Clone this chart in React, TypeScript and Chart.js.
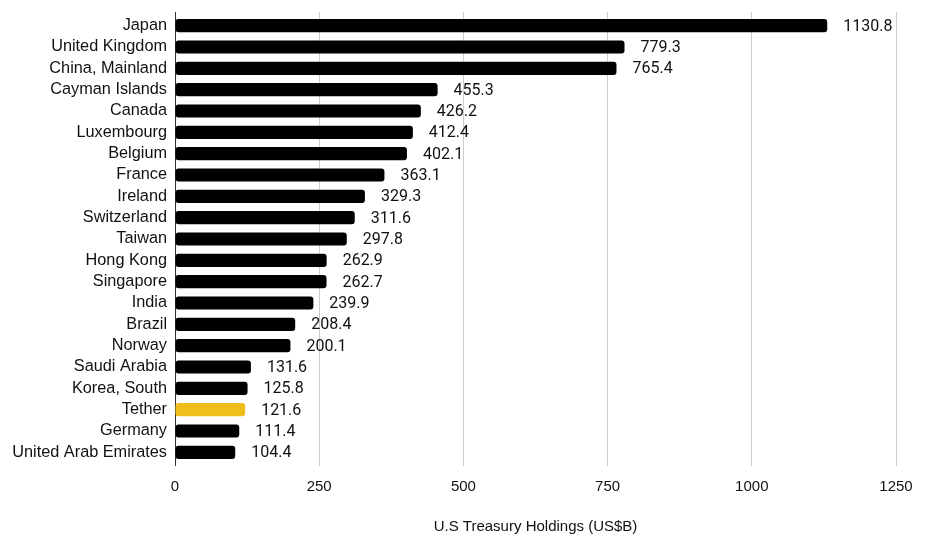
import React, { useEffect, useRef } from "react";
import { Chart, registerables } from "chart.js";

Chart.register(...registerables);

const categories = [
  "Japan",
  "United Kingdom",
  "China, Mainland",
  "Cayman Islands",
  "Canada",
  "Luxembourg",
  "Belgium",
  "France",
  "Ireland",
  "Switzerland",
  "Taiwan",
  "Hong Kong",
  "Singapore",
  "India",
  "Brazil",
  "Norway",
  "Saudi Arabia",
  "Korea, South",
  "Tether",
  "Germany",
  "United Arab Emirates",
];

const holdings = [
  1130.8, 779.3, 765.4, 455.3, 426.2, 412.4, 402.1, 363.1, 329.3, 311.6, 297.8,
  262.9, 262.7, 239.9, 208.4, 200.1, 131.6, 125.8, 121.6, 111.4, 104.4,
];

const highlight = "Tether";
const xTicks = [0, 250, 500, 750, 1000, 1250];
const axisTitle = "U.S Treasury Holdings (US$B)";

const valueLabels = {
  id: "valueLabels",
  afterDatasetsDraw(chart: any) {
    const ctx = chart.ctx;
    const meta = chart.getDatasetMeta(0);
    ctx.save();
    ctx.font = "16px Roboto";
    ctx.fillStyle = "#111";
    ctx.textAlign = "left";
    ctx.textBaseline = "middle";
    meta.data.forEach((bar: any, i: number) => {
      const v = chart.data.datasets[0].data[i];
      ctx.fillText(v.toFixed(1), bar.x + 16, bar.y + 1);
    });
    ctx.restore();
  },
};

// extends the vertical grid lines a few pixels past the plot area, as in the source
const gridExtend = {
  id: "gridExtend",
  afterDraw(chart: any) {
    const ctx = chart.ctx;
    const area = chart.chartArea;
    const xs = chart.scales.x;
    ctx.save();
    ctx.lineWidth = 1;
    xTicks.forEach((v) => {
      const x = Math.round(xs.getPixelForValue(v) - 0.5) + 0.5;
      ctx.strokeStyle = v === 0 ? "#333333" : "#cccccc";
      ctx.beginPath();
      ctx.moveTo(x, area.top - 3);
      ctx.lineTo(x, area.top);
      ctx.moveTo(x, area.bottom);
      ctx.lineTo(x, area.bottom + 3);
      ctx.stroke();
    });
    ctx.restore();
  },
};

export default function App() {
  const ref = useRef<HTMLCanvasElement>(null);
  useEffect(() => {
    if (!ref.current) return;
    const chart = new Chart(ref.current, {
      type: "bar",
      data: {
        labels: categories,
        datasets: [
          {
            data: holdings,
            backgroundColor: categories.map((c) => (c === highlight ? "#F0BD1B" : "#000000")),
            borderRadius: 3,
            borderSkipped: false,
            barPercentage: 0.62,
            categoryPercentage: 1,
          },
        ],
      },
      options: {
        indexAxis: "y",
        responsive: false,
        animation: false,
        layout: { padding: { top: 15, right: 29, left: 0, bottom: 0 } },
        plugins: {
          legend: { display: false },
          tooltip: { enabled: false },
        },
        scales: {
          x: {
            type: "linear",
            min: 0,
            max: 1250,
            afterBuildTicks: (scale: any) => {
              scale.ticks = xTicks.map((v) => ({ value: v }));
            },
            afterFit: (scale: any) => {
              scale.height = 75;
              scale.paddingLeft = 0;
              scale.paddingRight = 0;
            },
            grid: { color: "#cccccc", drawTicks: false, lineWidth: 1 },
            border: { display: false },
            ticks: {
              padding: 15,
              color: "#111",
              callback: (v: any) => String(v),
              font: { family: "'Liberation Sans', Arial", size: 15 },
            },
            title: {
              display: true,
              text: axisTitle,
              color: "#111",
              font: { family: "'Liberation Sans', Arial", size: 15 },
              padding: { top: 0, bottom: 2 },
            },
          },
          y: {
            afterFit: (scale: any) => {
              scale.width = 175;
              scale.paddingTop = 0;
              scale.paddingBottom = 0;
            },
            grid: { display: false, drawTicks: false },
            border: { display: true, color: "#333333", width: 1 },
            ticks: {
              padding: 8,
              color: "#111",
              autoSkip: false,
              font: { family: "'Liberation Sans', Arial", size: 16.3 },
            },
          },
        },
      },
      plugins: [valueLabels, gridExtend],
    } as any);
    return () => chart.destroy();
  }, []);
  return (
    <div style={{ position: "fixed", left: 0, top: 0, width: 925, height: 538, background: "#fff" }}>
      <canvas ref={ref} width={925} height={538} />
    </div>
  );
}
